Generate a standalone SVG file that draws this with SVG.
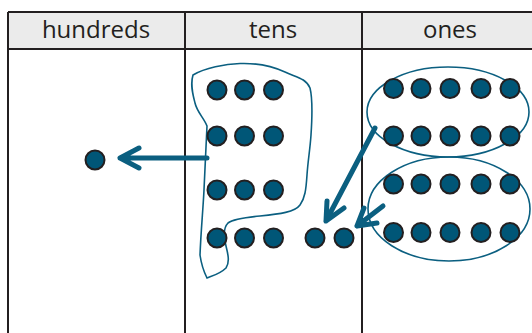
<svg xmlns="http://www.w3.org/2000/svg" width="532" height="333" viewBox="0 0 532 333">
<style>
.grid{stroke:#231f20;stroke-width:2;fill:none}
.hdr{font-family:"Open Sans","Liberation Sans",sans-serif;font-size:24px;fill:#231f20;text-anchor:middle}
.dot{fill:#005677;stroke:#231f20;stroke-width:2}
.loop{fill:none;stroke:#0b5f80;stroke-width:1.6}
.arr{fill:none;stroke:#0b5f80;stroke-width:5;stroke-linecap:round;stroke-linejoin:round}
</style>
<rect x="0" y="0" width="532" height="333" fill="#fff"/>
<g id="table">
<rect x="8" y="12" width="540" height="37" fill="#ebebeb"/>
<line class="grid" x1="8" y1="12" x2="532" y2="12"/>
<line class="grid" x1="8" y1="49" x2="532" y2="49"/>
<line class="grid" x1="8" y1="12" x2="8" y2="333"/>
<line class="grid" x1="185" y1="12" x2="185" y2="333"/>
<line class="grid" x1="362" y1="12" x2="362" y2="333"/>
<text class="hdr" x="96" y="38">hundreds</text>
<text class="hdr" x="273" y="38">tens</text>
<text class="hdr" x="450" y="38">ones</text>
</g>
<g id="groups">
<path id="tens-group" class="loop" d="M193,75 C205,68 225,64 240,63.5 C255,63 272,66 285,72 C295,77 306,78 310,88 C313,100 312,120 311,135 C310,150 308,160 307,175 C306,190 305,198 300,205 C295,212 280,214 260,216 C240,218 232,220 228,223 C223,228 224,238 226,246 C228,254 230,262 226,268 C220,274 212,276 207,278 C203,270 201,262 200,255 C201,230 203,210 204,190 C205,170 206,145 207,126 C204,118 197,112 195,103 C193,95 190,85 193,75 Z"/>
<ellipse id="ones-group-1" class="loop" cx="448" cy="112" rx="81" ry="45"/>
<ellipse id="ones-group-2" class="loop" cx="449" cy="209" rx="81" ry="52"/>
</g>
<g id="connectors">
<path class="arr" d="M207,158 L120,158 M139,148 L120,158 L139,168"/>
<path class="arr" d="M375,128 L326,221 M327,201 L326,221 L344,208"/>
<path class="arr" d="M383,206 L357,226 M364,208 L357,226 L377,223"/>
</g>
<g id="hundreds-dots">
<circle class="dot" cx="95" cy="160" r="9.5"/>
</g>
<g id="tens-dots">
<circle class="dot" cx="217" cy="90" r="9.5"/>
<circle class="dot" cx="244.5" cy="90" r="9.5"/>
<circle class="dot" cx="273.5" cy="90" r="9.5"/>
<circle class="dot" cx="217" cy="136" r="9.5"/>
<circle class="dot" cx="244.5" cy="136" r="9.5"/>
<circle class="dot" cx="273.5" cy="136" r="9.5"/>
<circle class="dot" cx="217" cy="190" r="9.5"/>
<circle class="dot" cx="244.5" cy="190" r="9.5"/>
<circle class="dot" cx="273.5" cy="190" r="9.5"/>
<circle class="dot" cx="217" cy="238" r="9.5"/>
<circle class="dot" cx="244.5" cy="238" r="9.5"/>
<circle class="dot" cx="273.5" cy="238" r="9.5"/>
<circle class="dot" cx="315" cy="238" r="9.5"/>
<circle class="dot" cx="344" cy="238" r="9.5"/>
</g>
<g id="ones-dots">
<circle class="dot" cx="393.5" cy="88.5" r="9.5"/>
<circle class="dot" cx="421" cy="88.5" r="9.5"/>
<circle class="dot" cx="450" cy="88.5" r="9.5"/>
<circle class="dot" cx="481" cy="88.5" r="9.5"/>
<circle class="dot" cx="510" cy="88.5" r="9.5"/>
<circle class="dot" cx="393.5" cy="136" r="9.5"/>
<circle class="dot" cx="421" cy="136" r="9.5"/>
<circle class="dot" cx="450" cy="136" r="9.5"/>
<circle class="dot" cx="481" cy="136" r="9.5"/>
<circle class="dot" cx="510" cy="136" r="9.5"/>
<circle class="dot" cx="393.5" cy="184" r="9.5"/>
<circle class="dot" cx="421" cy="184" r="9.5"/>
<circle class="dot" cx="450" cy="184" r="9.5"/>
<circle class="dot" cx="481" cy="184" r="9.5"/>
<circle class="dot" cx="510" cy="184" r="9.5"/>
<circle class="dot" cx="393.5" cy="232.5" r="9.5"/>
<circle class="dot" cx="421" cy="232.5" r="9.5"/>
<circle class="dot" cx="450" cy="232.5" r="9.5"/>
<circle class="dot" cx="481" cy="232.5" r="9.5"/>
<circle class="dot" cx="510" cy="232.5" r="9.5"/>
</g>
</svg>
